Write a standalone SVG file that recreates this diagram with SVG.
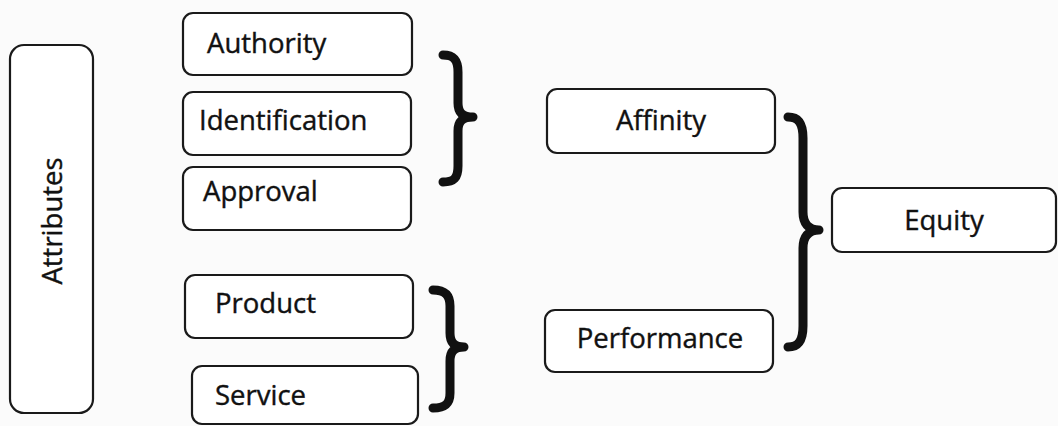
<svg xmlns="http://www.w3.org/2000/svg" width="1058" height="426" viewBox="0 0 1058 426">
<style>
.box{fill:#fff;stroke:#1a1a1a;stroke-width:2.2}
.lbl{font-family:"Open Sans","Liberation Sans",sans-serif;font-size:27.5px;fill:#111;stroke:#111;stroke-width:0.4}
.mid{text-anchor:middle}
.brace{fill:none;stroke:#111;stroke-width:9;stroke-linecap:round;stroke-linejoin:round}
</style>
<rect width="1058" height="426" fill="#fbfbfb"/>
<g id="attributes">
<rect class="box" x="10" y="45" width="83" height="368" rx="14"/>
<text class="lbl mid" transform="translate(62,221) rotate(-90)">Attributes</text>
</g>
<g id="authority">
<rect class="box" x="183" y="13" width="229" height="62" rx="10"/>
<text class="lbl" x="207" y="53">Authority</text>
</g>
<g id="identification">
<rect class="box" x="183" y="92" width="228" height="63" rx="10"/>
<text class="lbl" x="199" y="130">Identification</text>
</g>
<g id="approval">
<rect class="box" x="183" y="167" width="228" height="63" rx="10"/>
<text class="lbl" x="203" y="201">Approval</text>
</g>
<g id="product">
<rect class="box" x="185" y="275" width="228" height="63" rx="10"/>
<text class="lbl" x="215" y="313">Product</text>
</g>
<g id="service">
<rect class="box" x="192" y="366" width="226" height="58" rx="10"/>
<text class="lbl" x="215" y="405">Service</text>
</g>
<g id="affinity">
<rect class="box" x="547" y="89" width="228" height="64" rx="10"/>
<text class="lbl mid" x="661" y="130">Affinity</text>
</g>
<g id="performance">
<rect class="box" x="545" y="310" width="228" height="62" rx="10"/>
<text class="lbl mid" x="660" y="348">Performance</text>
</g>
<g id="equity">
<rect class="box" x="832" y="188" width="224" height="64" rx="10"/>
<text class="lbl mid" x="944" y="230">Equity</text>
</g>
<g id="connectors">
<path class="brace" d="M443,55 C454,55 458,60 458,72 L458,103 C458,112 462,117 473,117 C462,117 458,122 458,131 L458,166 C458,178 454,182 443,182"/>
<path class="brace" d="M433,290 C445,290 450,295 450,306 L450,333 C450,342 454,347 464,347 C454,347 450,352 450,361 L450,393 C450,404 445,408 433,408"/>
<path class="brace" d="M788,117 C799,117 803,124 803,138 L803,212 C803,223 808,230 819,230 C808,230 803,237 803,248 L803,326 C803,340 799,347 788,347"/>
</g>
</svg>
